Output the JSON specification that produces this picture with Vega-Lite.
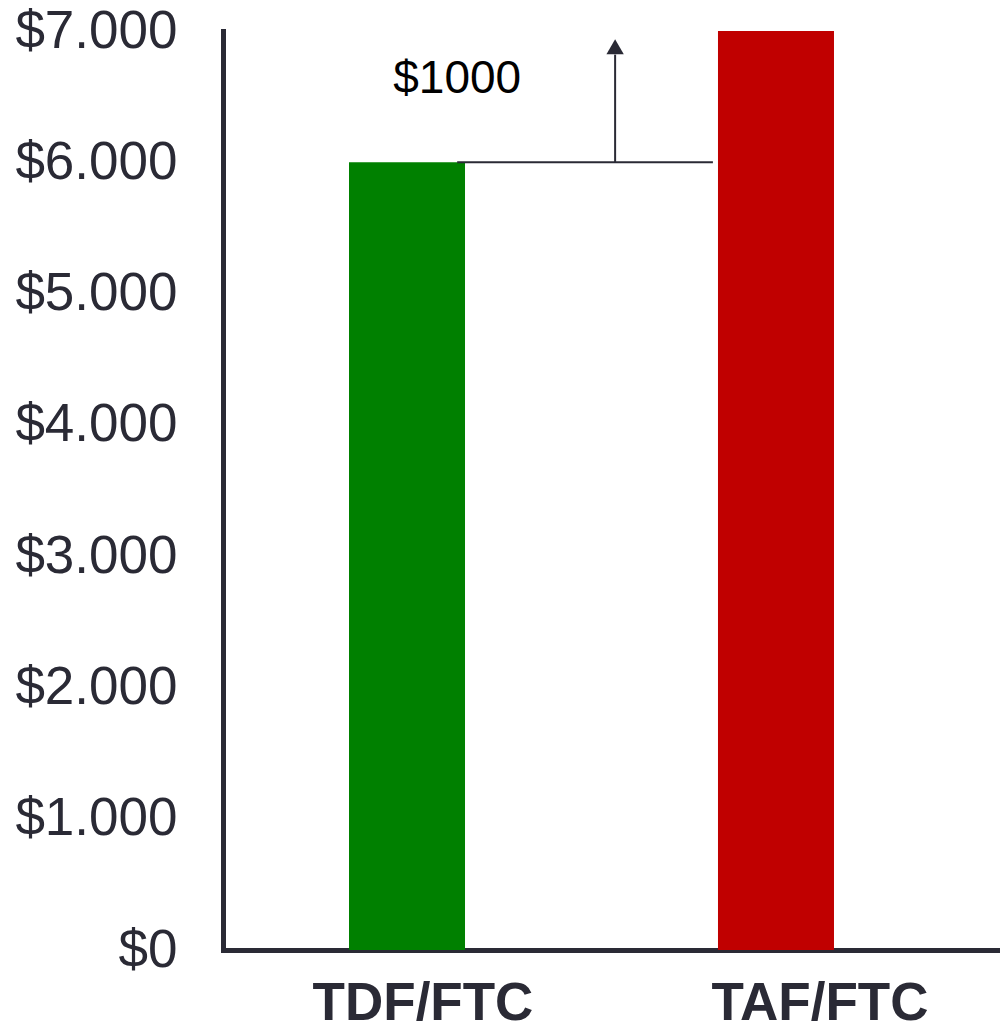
{
  "$schema": "https://vega.github.io/schema/vega-lite/v6.json",
  "width": 777,
  "height": 919,
  "autosize": {"type": "none"},
  "padding": {"left": 223, "top": 31, "right": 0, "bottom": 75},
  "background": "white",
  "config": {"view": {"stroke": null}, "font": "Liberation Sans"},
  "datasets": {
    "bars": [
      {"regimen": "TDF/FTC", "cost": 6000},
      {"regimen": "TAF/FTC", "cost": 7000}
    ],
    "diff": [{"start": 1.136, "end": 1.829, "level": 6000}],
    "arrow": [{"pos": 1.564, "base": 6000, "head": 6820, "tip": 6880}],
    "note": [{"pos": 1.136, "value": 6635, "text": "$1000"}]
  },
  "layer": [
    {
      "data": {"name": "bars"},
      "mark": {"type": "bar"},
      "encoding": {
        "x": {
          "field": "regimen", "type": "nominal", "sort": null,
          "scale": {"paddingInner": 0.6856, "paddingOuter": 0.3957, "align": 0.4315},
          "axis": {
            "title": null, "domainColor": "#2a2a35", "domainWidth": 5, "domainCap": "square",
            "ticks": false, "tickSize": 0, "labelFontSize": 53, "labelFontWeight": "bold",
            "labelColor": "#2a2a35", "labelPadding": 27, "labelAngle": 0, "labelLimit": 500,
            "labelOverlap": false, "labelFont": "Liberation Sans",
            "labelOffset": {"condition": {"test": "datum.value === 'TDF/FTC'", "value": 16}, "value": 44}
          }
        },
        "y": {
          "field": "cost", "type": "quantitative",
          "scale": {"domain": [0, 7000], "nice": false},
          "axis": {
            "title": null, "values": [0, 1000, 2000, 3000, 4000, 5000, 6000, 7000],
            "labelExpr": "'$' + replace(format(datum.value, ','), ',', '.')",
            "domainColor": "#2a2a35", "domainWidth": 5, "domainCap": "square",
            "ticks": false, "tickSize": 0, "grid": false, "labelFontSize": 53,
            "labelColor": "#2a2a35", "labelPadding": 46, "labelFont": "Liberation Sans",
            "labelFlush": false, "labelOverlap": false, "labelLimit": 500
          }
        },
        "color": {
          "field": "regimen", "type": "nominal",
          "scale": {"domain": ["TDF/FTC", "TAF/FTC"], "range": ["#008000", "#C00000"]},
          "legend": null
        }
      }
    },
    {
      "layer": [
        {
          "data": {"name": "diff"},
          "mark": {"type": "rule", "color": "#2a2a35", "strokeWidth": 2},
          "encoding": {
            "x": {"field": "start", "type": "quantitative", "scale": {"domain": [0.5014, 2.607], "nice": false, "zero": false}, "axis": null},
            "x2": {"field": "end"},
            "y": {"field": "level", "type": "quantitative", "title": null}
          }
        },
        {
          "data": {"name": "arrow"},
          "mark": {"type": "rule", "color": "#2a2a35", "strokeWidth": 2},
          "encoding": {
            "x": {"field": "pos", "type": "quantitative", "axis": null},
            "y": {"field": "base", "type": "quantitative", "title": null},
            "y2": {"field": "head"}
          }
        },
        {
          "data": {"name": "arrow"},
          "mark": {"type": "point", "shape": "triangle-up", "filled": true, "color": "#2a2a35", "size": 300, "opacity": 1},
          "encoding": {
            "x": {"field": "pos", "type": "quantitative", "axis": null},
            "y": {"field": "tip", "type": "quantitative", "title": null}
          }
        },
        {
          "data": {"name": "note"},
          "mark": {"type": "text", "fontSize": 46, "color": "#000000", "font": "Liberation Sans", "align": "center", "baseline": "middle"},
          "encoding": {
            "x": {"field": "pos", "type": "quantitative", "axis": null},
            "y": {"field": "value", "type": "quantitative", "title": null},
            "text": {"field": "text"}
          }
        }
      ]
    }
  ],
  "resolve": {"scale": {"x": "independent"}}
}
